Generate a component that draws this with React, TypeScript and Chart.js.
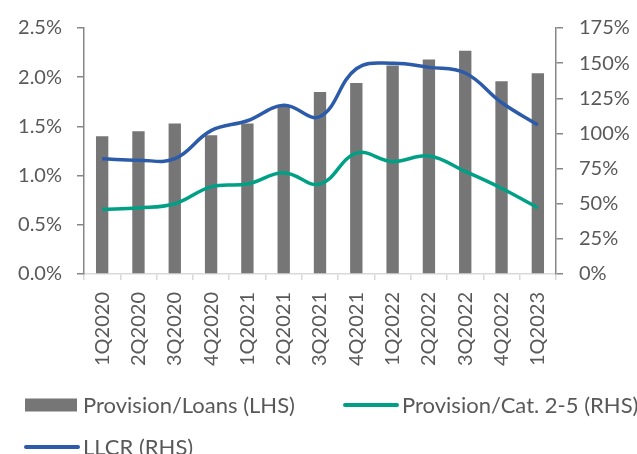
import React, { useEffect, useRef } from "react";
import { Chart, registerables } from "chart.js";

Chart.register(...registerables);

const categories = ["1Q2020","2Q2020","3Q2020","4Q2020","1Q2021","2Q2021","3Q2021","4Q2021","1Q2022","2Q2022","3Q2022","4Q2022","1Q2023"];
const provisionLoans = [1.40, 1.45, 1.53, 1.41, 1.53, 1.71, 1.85, 1.94, 2.12, 2.18, 2.27, 1.96, 2.04];
const provisionCat25 = [46, 47, 50, 62, 64, 72, 64, 86, 80, 84, 73, 61, 47];
const llcr = [82, 81, 82, 102, 109, 120, 112, 146, 150, 147, 143, 122, 106];
const leftTicks = [0, 0.5, 1.0, 1.5, 2.0, 2.5];
const rightTicks = [0, 25, 50, 75, 100, 125, 150, 175];

const FONT = "Lato, 'Open Sans', sans-serif";
const TEXT = "#595959";

const legendPlugin = {
  id: "customLegend",
  afterDraw(chart: any) {
    const ctx = chart.ctx;
    const slots = [
      { x: 25, y: 405 },
      { x: 344, y: 405 },
      { x: 25, y: 447 },
    ];
    ctx.save();
    ctx.font = `22px ${FONT}`;
    ctx.textBaseline = "middle";
    ctx.textAlign = "left";
    chart.data.datasets.forEach((ds: any, i: number) => {
      const s = slots[i];
      if (!s) return;
      if (ds.type === "bar") {
        ctx.fillStyle = ds.backgroundColor;
        ctx.fillRect(s.x, s.y - 6.5, 52, 13);
      } else {
        ctx.strokeStyle = ds.borderColor;
        ctx.lineWidth = 4;
        ctx.lineCap = "round";
        ctx.beginPath();
        ctx.moveTo(s.x + 1, s.y);
        ctx.lineTo(s.x + 53, s.y);
        ctx.stroke();
      }
      ctx.fillStyle = TEXT;
      ctx.fillText(ds.label, s.x + 58, s.y + 1);
    });
    ctx.restore();
  },
};

export default function App() {
  const ref = useRef<HTMLCanvasElement | null>(null);
  useEffect(() => {
    if (!ref.current) return;
    const chart = new Chart(ref.current, {
      data: {
        labels: categories,
        datasets: [
          {
            type: "bar",
            label: "Provision/Loans (LHS)",
            data: provisionLoans,
            backgroundColor: "#767676",
            yAxisID: "y",
            barPercentage: 0.34,
            categoryPercentage: 1,
            order: 3,
          },
          {
            type: "line",
            label: "Provision/Cat. 2-5 (RHS)",
            data: provisionCat25,
            borderColor: "#00a086",
            backgroundColor: "#00a086",
            borderWidth: 3.5,
            pointRadius: 0,
            tension: 0.4,
            yAxisID: "y1",
            order: 1,
          },
          {
            type: "line",
            label: "LLCR (RHS)",
            data: llcr,
            borderColor: "#2c5ba9",
            backgroundColor: "#2c5ba9",
            borderWidth: 3.5,
            pointRadius: 0,
            tension: 0.4,
            yAxisID: "y1",
            order: 0,
          },
        ],
      } as any,
      options: {
        animation: false,
        responsive: false,
        layout: { padding: { left: 0, right: 0, top: 25, bottom: 70 } },
        plugins: {
          legend: { display: false },
          tooltip: { enabled: false },
        },
        scales: {
          x: {
            offset: true,
            grid: {
              display: true,
              offset: true,
              drawOnChartArea: false,
              drawTicks: true,
              tickLength: 6,
              color: "#d9d9d9",
              lineWidth: 1.5,
            },
            border: { display: true, color: "#d9d9d9", width: 1.5 },
            ticks: {
              color: TEXT,
              font: { family: FONT, size: 20 },
              minRotation: 90,
              maxRotation: 90,
              padding: 12,
              autoSkip: false,
            },
            afterFit(scale: any) {
              scale.height = 110;
            },
          },
          y: {
            position: "left",
            min: 0,
            max: 2.5,
            afterBuildTicks(scale: any) {
              scale.ticks = leftTicks.map((v) => ({ value: v }));
            },
            grid: {
              drawOnChartArea: false,
              drawTicks: true,
              tickLength: 7,
              color: "#868686",
              lineWidth: 1.5,
            },
            border: { display: true, color: "#868686", width: 1.5 },
            ticks: {
              color: TEXT,
              font: { family: FONT, size: 20 },
              padding: 15,
              callback: (v: any) => Number(v).toFixed(1) + "%",
            },
            afterFit(scale: any) {
              scale.width = 84;
            },
          },
          y1: {
            position: "right",
            min: 0,
            max: 175,
            afterBuildTicks(scale: any) {
              scale.ticks = rightTicks.map((v) => ({ value: v }));
            },
            grid: {
              drawOnChartArea: false,
              drawTicks: true,
              tickLength: 7,
              color: "#868686",
              lineWidth: 1.5,
            },
            border: { display: true, color: "#868686", width: 1.5 },
            ticks: {
              color: TEXT,
              font: { family: FONT, size: 20 },
              padding: 16,
              callback: (v: any) => v + "%",
            },
            afterFit(scale: any) {
              scale.width = 81;
            },
          },
        },
      } as any,
      plugins: [legendPlugin],
    });
    return () => chart.destroy();
  }, []);
  return (
    <div style={{ position: "fixed", left: 0, top: 0, width: 637, height: 454, background: "#fff" }}>
      <canvas ref={ref} width={637} height={454} style={{ display: "block" }} />
    </div>
  );
}
